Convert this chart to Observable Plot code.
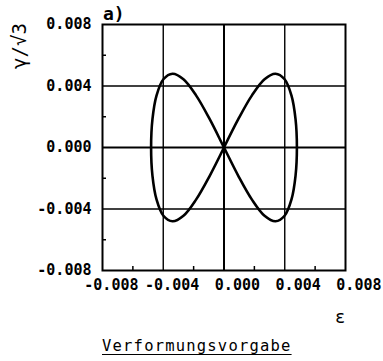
<!DOCTYPE html>
<html>
<head>
<meta charset="utf-8">
<script src="https://cdn.jsdelivr.net/npm/d3@7"></script>
<script src="https://cdn.jsdelivr.net/npm/@observablehq/plot@0.6"></script>
<style>
  html, body { margin: 0; padding: 0; background: #fff; }
  #wrap { position: relative; width: 383px; height: 361px; font-family: "DejaVu Sans Mono", monospace; color: #000; }
  .ov { position: absolute; white-space: nowrap; line-height: 1; }
</style>
</head>
<body>
<div id="wrap"></div>
<script>
// Strain path (epsilon, gamma/sqrt3)
const epsilon = [0, 0.00094, 0.00184, 0.00267, 0.00339, 0.00399, 0.00444, 0.00471, 0.0048, 0.00471, 0.00444, 0.00399, 0.00339, 0.00267, 0.00184, 0.00094, 0,
  -0.00094, -0.00184, -0.00267, -0.00339, -0.00399, -0.00444, -0.00471, -0.0048, -0.00471, -0.00444, -0.00399, -0.00339, -0.00267, -0.00184, -0.00094, 0];
const gamma = [0, 0.00184, 0.00339, 0.00444, 0.0048, 0.00444, 0.00339, 0.00184, 0, -0.00184, -0.00339, -0.00444, -0.0048, -0.00444, -0.00339, -0.00184, 0,
  0.00184, 0.00339, 0.00444, 0.0048, 0.00444, 0.00339, 0.00184, 0, -0.00184, -0.00339, -0.00444, -0.0048, -0.00444, -0.00339, -0.00184, 0];
const majorTicks = [-0.008, -0.004, 0, 0.004, 0.008];
const tickLabels = ["-0.008", "-0.004", "0.000", "0.004", "0.008"];
const minorTicks = [-0.006, -0.002, 0.002, 0.006];
const gridLines = [-0.004, 0.004];
const zeroLine = [0];

const pts = epsilon.map((e, i) => ({e, g: gamma[i]}));
const fmt = d => tickLabels[majorTicks.findIndex(v => Math.abs(v - d) < 1e-9)];

const chart = Plot.plot({
  width: 383,
  height: 361,
  marginLeft: 102,
  marginRight: 38,
  marginTop: 24,
  marginBottom: 91,
  style: {fontFamily: "DejaVu Sans Mono", fontSize: "15px", color: "#000", background: "#fff"},
  x: {domain: [-0.008, 0.008], label: null},
  y: {domain: [-0.008, 0.008], label: null},
  marks: [
    Plot.ruleX(gridLines, {stroke: "#000", strokeWidth: 1.4}),
    Plot.ruleY(gridLines, {stroke: "#000", strokeWidth: 1.4}),
    Plot.ruleX(zeroLine, {stroke: "#000", strokeWidth: 2}),
    Plot.ruleY(zeroLine, {stroke: "#000", strokeWidth: 2}),
    Plot.axisX(minorTicks, {anchor: "bottom", tickSize: -4, tickFormat: () => "", strokeWidth: 1.5, label: null}),
    Plot.axisY(minorTicks, {anchor: "left", tickSize: -4, tickFormat: () => "", strokeWidth: 1.5, label: null}),
    Plot.axisX(majorTicks, {anchor: "bottom", tickSize: 0, tickPadding: 9, tickFormat: fmt, textAnchor: "end", dx: 36, label: null, fontSize: 15, fontWeight: "bold"}),
    Plot.axisY(majorTicks, {anchor: "left", tickSize: 0, tickPadding: 11, tickFormat: fmt, label: null, fontSize: 15, fontWeight: "bold"}),
    Plot.frame({stroke: "#000", strokeWidth: 2}),
    Plot.line(pts, {x: "e", y: "g", curve: "catmull-rom", stroke: "#000", strokeWidth: 2.6})
  ]
});

const wrap = document.getElementById("wrap");
wrap.appendChild(chart);

function overlay(text, css) {
  const d = document.createElement("div");
  d.className = "ov";
  d.textContent = text;
  Object.assign(d.style, css);
  wrap.appendChild(d);
  return d;
}
overlay("a)", {left: "103px", top: "5px", fontSize: "18px", fontWeight: "bold"});
overlay("\u03B3/\u221A3", {left: "19px", top: "46px", fontSize: "19px", transform: "translate(-50%,-50%) rotate(-90deg)"});
overlay("\u03B5", {left: "340px", top: "317px", fontSize: "17px", transform: "translate(-50%,-50%)"});
overlay("Verformungsvorgabe", {left: "102px", top: "339px", fontSize: "15.5px", letterSpacing: "1.2px", textDecoration: "underline", textUnderlineOffset: "3px"});
</script>
</body>
</html>
